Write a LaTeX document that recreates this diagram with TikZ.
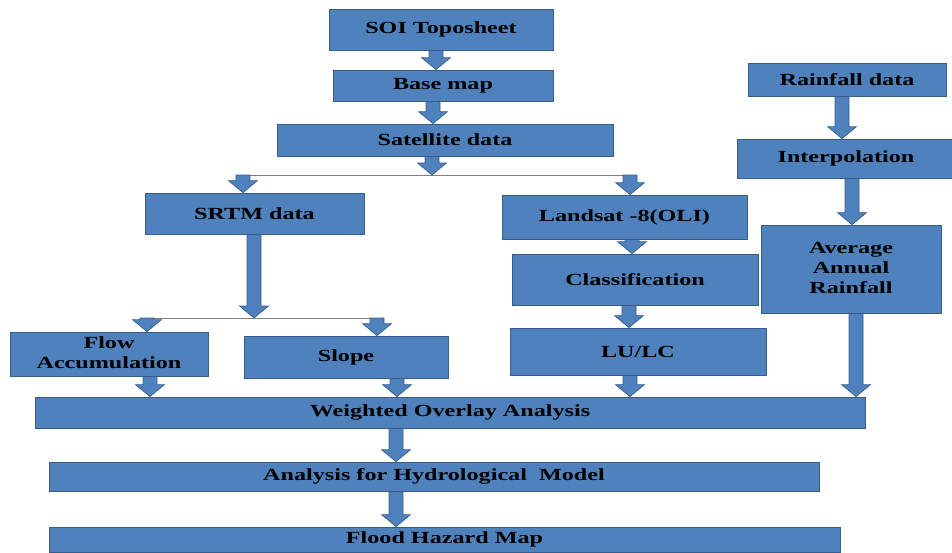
\documentclass[tikz,border=0pt]{standalone}
\usepackage{fontspec}
\setmainfont{Liberation Serif}
\usetikzlibrary{calc}
\definecolor{boxfill}{HTML}{4F81BD}
\definecolor{boxline}{HTML}{385D8A}
\definecolor{linkc}{HTML}{808080}
\newcommand{\wlbl}[1]{\raisebox{-1.5pt}{\scalebox{1.42}[1]{#1}}}
\newcommand{\blockarr}[3]{%
  \path let \p1=(#2), \p2=(#3) in [arrowshape]
    (#1pt-7pt,\y1) -- (#1pt+7pt,\y1) -- (#1pt+7pt,\y2+12pt) -- (#1pt+14.5pt,\y2+12pt)
    -- (#1pt,\y2) -- (#1pt-14.5pt,\y2+12pt) -- (#1pt-7pt,\y2+12pt) -- cycle;}
\begin{document}
\begin{tikzpicture}[x=1pt,y=1pt,
  box/.style={draw=boxline, fill=boxfill, line width=0.8pt, inner sep=0pt,
    font=\fontsize{17}{20}\selectfont\bfseries, text=black, align=center},
  arrowshape/.style={draw=boxline, fill=boxfill, line width=0.7pt, line join=miter},
  link/.style={draw=linkc, line width=1pt}]
\useasboundingbox (0,0) rectangle (952,-552);
% boxes
\node[box, minimum width=224pt, minimum height=41pt] (soi) at (441,-29.5) {\wlbl{SOI Toposheet}};
\node[box, minimum width=220pt, minimum height=31pt] (base) at (443,-85.5) {\wlbl{Base map}};
\node[box, minimum width=336pt, minimum height=32pt] (sat) at (445,-140) {\wlbl{Satellite data}};
\node[box, minimum width=219pt, minimum height=41pt] (srtm) at (254.5,-213.5) {\wlbl{SRTM data}};
\node[box, minimum width=245pt, minimum height=44pt] (land) at (624.5,-217) {\wlbl{Landsat -8(OLI)}};
\node[box, minimum width=246pt, minimum height=51pt] (cls) at (635,-279.5) {\wlbl{Classification}};
\node[box, minimum width=256pt, minimum height=47pt] (lulc) at (638,-351.5) {\wlbl{LU/LC}};
\node[box, minimum width=198pt, minimum height=44pt] (flow) at (109,-354) {\wlbl{\begin{tabular}{@{}c@{}}Flow\\Accumulation\end{tabular}}};
\node[box, minimum width=204pt, minimum height=42pt] (slope) at (346,-357) {\wlbl{Slope}};
\node[box, minimum width=198pt, minimum height=33pt] (rain) at (847,-79.5) {\wlbl{Rainfall data}};
\node[box, minimum width=218pt, minimum height=39pt] (interp) at (846,-158.5) {\wlbl{Interpolation}};
\node[box, minimum width=180pt, minimum height=88pt] (aar) at (851,-269) {\wlbl{\begin{tabular}{@{}c@{}}Average\\Annual\\Rainfall\end{tabular}}};
\node[box, minimum width=830pt, minimum height=31pt] (wov) at (450,-412.5) {\wlbl{Weighted Overlay Analysis}};
\node[box, minimum width=770pt, minimum height=29pt] (ahm) at (434,-476.5) {\wlbl{Analysis for Hydrological\hspace{0.5em}Model}};
\node[box, minimum width=791pt, minimum height=25pt] (fhm) at (444.5,-539.5) {\wlbl{Flood Hazard Map}};
% split lines
\coordinate (l1a) at (243,-175);
\coordinate (l1b) at (630,-175);
\coordinate (l2a) at (147,-318);
\coordinate (l2b) at (377,-318);
\draw[link] (l1a) -- (l1b);
\draw[link] (l2a) -- (l2b);
% block arrows
\blockarr{436}{soi.south}{base.north}
\blockarr{433}{base.south}{sat.north}
\blockarr{432}{sat.south}{l1a}
\blockarr{243}{l1a}{srtm.north}
\blockarr{630}{l1b}{land.north}
\blockarr{254}{srtm.south}{l2a}
\blockarr{147}{l2a}{flow.north}
\blockarr{377}{l2b}{slope.north}
\blockarr{150}{flow.south}{wov.north}
\blockarr{397}{slope.south}{wov.north}
\blockarr{632}{land.south}{cls.north}
\blockarr{629}{cls.south}{lulc.north}
\blockarr{630}{lulc.south}{wov.north}
\blockarr{842}{rain.south}{interp.north}
\blockarr{852}{interp.south}{aar.north}
\blockarr{856}{aar.south}{wov.north}
\blockarr{396}{wov.south}{ahm.north}
\blockarr{396}{ahm.south}{fhm.north}
\end{tikzpicture}
\end{document}
